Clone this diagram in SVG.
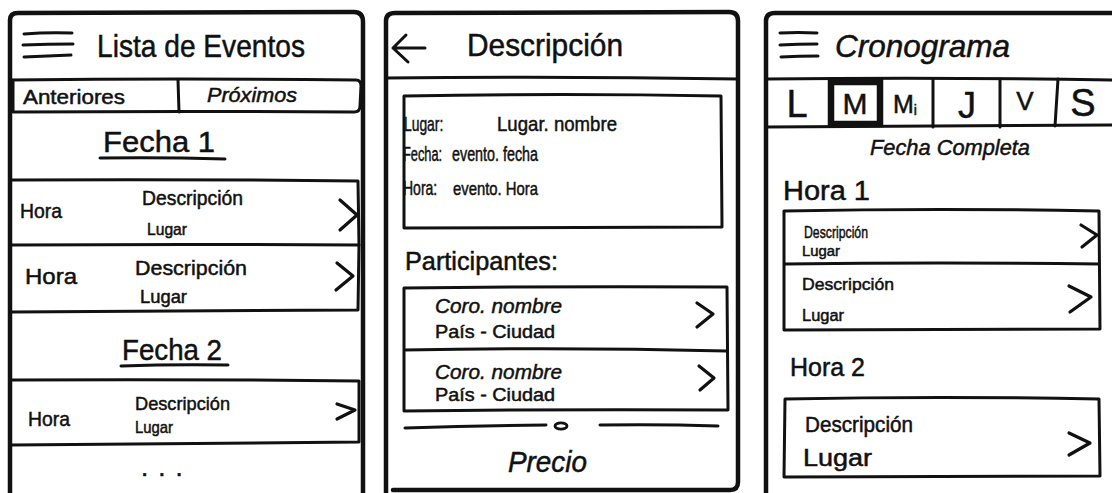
<svg xmlns="http://www.w3.org/2000/svg" width="1112" height="493" viewBox="0 0 1112 493">
  <style>
    .frame { fill: none; stroke: #111; stroke-width: 4.5; stroke-linecap: round; stroke-linejoin: round; }
    .ln { fill: none; stroke: #111; stroke-width: 3; stroke-linecap: round; stroke-linejoin: round; }
    .chev { fill: none; stroke: #111; stroke-width: 3.2; stroke-linecap: round; stroke-linejoin: round; }
    .t { font-family: "Liberation Sans", "DejaVu Sans", sans-serif; fill: #111; stroke: #111; stroke-width: 0.5; }
  </style>
  <rect width="1112" height="493" fill="#fff"/>

  <!-- Screen 1: event list -->
  <g id="screen-lista">
    <path class="frame" d="M10 493 L10 20 Q10 13 18 13 L354 12 Q363 12 363 22 L363 493"/>
    <g id="lista-header">
      <path class="ln" d="M24 34 Q48 32 72 33 M23 45 Q48 44 73 44 M24 57 Q48 56 71 55" stroke-width="3.4"/>
      <text class="t" x="97" y="57" font-size="32" textLength="208" lengthAdjust="spacingAndGlyphs">Lista de Eventos</text>
    </g>
    <g id="lista-tabs">
      <path class="ln" d="M10 80 Q180 78 356 80 Q361 80 361 86 L360 106 Q360 112 354 112 Q180 111 13 112 L13 80"/>
      <path class="ln" d="M178 80 L179 112"/>
      <text class="t" x="23" y="104" font-size="20" textLength="102" lengthAdjust="spacingAndGlyphs">Anteriores</text>
      <text class="t" x="207" y="102" font-size="20" font-style="italic" textLength="90" lengthAdjust="spacingAndGlyphs">Próximos</text>
    </g>
    <g id="lista-fecha1">
      <text class="t" x="103" y="152" font-size="30" textLength="112" lengthAdjust="spacingAndGlyphs">Fecha 1</text>
      <path class="ln" d="M100 158 Q160 157 225 159"/>
    </g>
    <g id="lista-evento1">
      <path class="ln" d="M12 180 Q185 179 358 181 L359 245 Q185 244 12 245"/>
      <text class="t" x="20" y="218" font-size="21" textLength="42" lengthAdjust="spacingAndGlyphs">Hora</text>
      <text class="t" x="142" y="205" font-size="20" textLength="101" lengthAdjust="spacingAndGlyphs">Descripción</text>
      <text class="t" x="147" y="235" font-size="17" textLength="40" lengthAdjust="spacingAndGlyphs">Lugar</text>
      <path class="chev" d="M340 200 L357 215 L340 230"/>
    </g>
    <g id="lista-evento2">
      <path class="ln" d="M359 245 L358 310 Q185 311 12 312"/>
      <text class="t" x="25" y="284" font-size="22" textLength="52" lengthAdjust="spacingAndGlyphs">Hora</text>
      <text class="t" x="135" y="275" font-size="21" textLength="112" lengthAdjust="spacingAndGlyphs">Descripción</text>
      <text class="t" x="140" y="303" font-size="18" textLength="47" lengthAdjust="spacingAndGlyphs">Lugar</text>
      <path class="chev" d="M337 263 L353 276 L336 290"/>
    </g>
    <g id="lista-fecha2">
      <text class="t" x="122" y="360" font-size="30" textLength="100" lengthAdjust="spacingAndGlyphs">Fecha 2</text>
      <path class="ln" d="M121 366 Q175 364 228 365"/>
    </g>
    <g id="lista-evento3">
      <path class="ln" d="M12 380 Q185 379 359 381 L359 442 Q185 443 12 445"/>
      <text class="t" x="28" y="426" font-size="21" textLength="42" lengthAdjust="spacingAndGlyphs">Hora</text>
      <text class="t" x="135" y="410" font-size="19" textLength="95" lengthAdjust="spacingAndGlyphs">Descripción</text>
      <text class="t" x="135" y="433" font-size="17" textLength="38" lengthAdjust="spacingAndGlyphs">Lugar</text>
      <path class="chev" d="M337 404 L355 410 L337 419"/>
    </g>
    <g id="lista-mas">
      <text class="t" x="141" y="476" font-size="26" letter-spacing="10">...</text>
    </g>
  </g>

  <!-- Screen 2: event description -->
  <g id="screen-descripcion">
    <path class="frame" d="M386 493 L386 21 Q386 13 395 13 L729 12 Q738 12 738 21 L738 482 Q738 490 730 490 L393 490"/>
    <g id="desc-header">
      <path class="ln" d="M425 48 L393 48 M406 35 L393 48 L408 62" stroke-width="3.2"/>
      <text class="t" x="467" y="56" font-size="32" textLength="156" lengthAdjust="spacingAndGlyphs">Descripción</text>
      <path class="ln" d="M386 78 Q560 76 738 79"/>
    </g>
    <g id="desc-info">
      <path class="ln" d="M404 96 Q560 93 721 96 L722 227 Q560 228 404 228 Z"/>
      <!-- labels are narrowed with a horizontal scale so they keep their height -->
      <text class="t" transform="translate(404 131) scale(0.66 1)" font-size="21">Lugar:</text>
      <text class="t" x="497" y="131" font-size="21" textLength="120" lengthAdjust="spacingAndGlyphs">Lugar. nombre</text>
      <text class="t" transform="translate(403 161) scale(0.64 1)" font-size="20">Fecha:</text>
      <text class="t" x="452" y="161" font-size="20" textLength="86" lengthAdjust="spacingAndGlyphs">evento. fecha</text>
      <text class="t" transform="translate(403 195) scale(0.7 1)" font-size="20">Hora:</text>
      <text class="t" x="453" y="195" font-size="19" textLength="85" lengthAdjust="spacingAndGlyphs">evento. Hora</text>
    </g>
    <g id="desc-participantes">
      <text class="t" x="405" y="270" font-size="25" textLength="153" lengthAdjust="spacingAndGlyphs">Participantes:</text>
      <path class="ln" d="M404 288 Q565 286 727 287 L728 410 Q565 409 404 411 Z M404 350 Q565 347 727 351"/>
    </g>
    <g id="desc-coro1">
      <text class="t" x="435" y="313" font-size="21" font-style="italic" textLength="127" lengthAdjust="spacingAndGlyphs">Coro. nombre</text>
      <text class="t" x="435" y="338" font-size="18" textLength="120" lengthAdjust="spacingAndGlyphs">País - Ciudad</text>
      <path class="chev" d="M697 303 L713 314 L697 327"/>
    </g>
    <g id="desc-coro2">
      <text class="t" x="435" y="379" font-size="21" font-style="italic" textLength="127" lengthAdjust="spacingAndGlyphs">Coro. nombre</text>
      <text class="t" x="435" y="401" font-size="18" textLength="120" lengthAdjust="spacingAndGlyphs">País - Ciudad</text>
      <path class="chev" d="M699 366 L714 378 L700 390"/>
    </g>
    <g id="desc-precio">
      <path class="ln" d="M405 428 Q475 426 546 425 M600 425 Q660 424 718 426" stroke-width="3.2"/>
      <ellipse cx="561" cy="426" rx="6" ry="3.2" fill="none" stroke="#111" stroke-width="2.8"/>
      <text class="t" x="508" y="472" font-size="29" font-style="italic" textLength="79" lengthAdjust="spacingAndGlyphs">Precio</text>
    </g>
  </g>

  <!-- Screen 3: schedule -->
  <g id="screen-cronograma">
    <path class="frame" d="M766 493 L766 21 Q766 13 775 13 L1112 13"/>
    <g id="crono-header">
      <path class="ln" d="M780 33 Q798 32 817 33 M780 45 Q798 44 817 44 M781 57 Q799 56 818 56" stroke-width="3.4"/>
      <text class="t" x="835" y="57" font-size="32" font-style="italic" textLength="175" lengthAdjust="spacingAndGlyphs">Cronograma</text>
    </g>
    <g id="crono-dias">
      <path class="ln" d="M766 79 Q940 77 1112 80 M766 127 Q940 126 1112 125"/>
      <path class="ln" d="M933 79 L933 127 M1000 79 L1000 127 M1058 79 L1055 126"/>
      <rect x="831" y="82" width="49" height="42" fill="none" stroke="#111" stroke-width="6.5"/>
      <text class="t" x="797" y="117" font-size="38" text-anchor="middle">L</text>
      <text class="t" x="855" y="114" font-size="30" text-anchor="middle">M</text>
      <text class="t" x="893" y="113" font-size="25">M<tspan font-size="14" dy="2">i</tspan></text>
      <text class="t" x="967" y="118" font-size="36" text-anchor="middle">J</text>
      <text class="t" x="1025" y="110" font-size="26" text-anchor="middle">V</text>
      <text class="t" x="1083" y="116" font-size="38" text-anchor="middle">S</text>
    </g>
    <text class="t" x="870" y="155" font-size="22" font-style="italic" textLength="160" lengthAdjust="spacingAndGlyphs">Fecha Completa</text>
    <g id="crono-hora1">
      <text class="t" x="783" y="200" font-size="27" textLength="87" lengthAdjust="spacingAndGlyphs">Hora 1</text>
      <path class="ln" d="M784 211 Q940 208 1099 211 L1100 329 Q940 330 784 330 Z M784 264 Q940 262 1099 264"/>
    </g>
    <g id="crono-evento1">
      <text class="t" x="804" y="238" font-size="17" textLength="64" lengthAdjust="spacingAndGlyphs">Descripción</text>
      <text class="t" x="802" y="256" font-size="14" textLength="38" lengthAdjust="spacingAndGlyphs">Lugar</text>
      <path class="chev" d="M1081 225 L1097 235 L1082 247"/>
    </g>
    <g id="crono-evento2">
      <text class="t" x="802" y="290" font-size="17" textLength="92" lengthAdjust="spacingAndGlyphs">Descripción</text>
      <text class="t" x="802" y="321" font-size="16" textLength="42" lengthAdjust="spacingAndGlyphs">Lugar</text>
      <path class="chev" d="M1069 286 L1091 297 L1070 312"/>
    </g>
    <g id="crono-hora2">
      <text class="t" x="790" y="376" font-size="25" textLength="75" lengthAdjust="spacingAndGlyphs">Hora 2</text>
    </g>
    <g id="crono-evento3">
      <path class="ln" d="M785 399 Q940 396 1099 399 L1100 476 Q940 477 784 477 Z"/>
      <text class="t" x="805" y="432" font-size="22" textLength="108" lengthAdjust="spacingAndGlyphs">Descripción</text>
      <text class="t" x="803" y="466" font-size="23" textLength="69" lengthAdjust="spacingAndGlyphs">Lugar</text>
      <path class="chev" d="M1069 433 L1090 443 L1069 455"/>
    </g>
  </g>
</svg>
